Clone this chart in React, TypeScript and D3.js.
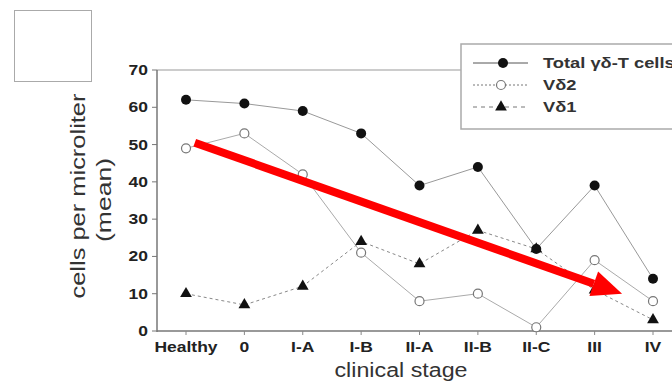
import React from "react";
import * as d3 from "d3";

const stages = ["Healthy", "0", "I-A", "I-B", "II-A", "II-B", "II-C", "III", "IV"];
const totalCells = [62, 61, 59, 53, 39, 44, 22, 39, 14];
const vd2 = [49, 53, 42, 21, 8, 10, 1, 19, 8];
const vd1 = [10, 7, 12, 24, 18, 27, 22, 11, 3];
const yTicks = [0, 10, 20, 30, 40, 50, 60, 70];
const legendLabels = ["Total γδ-T cells", "Vδ2", "Vδ1"];
// annotation arrow, in (category index, value) units
const arrowStart = [0.15, 50.5];
const arrowEnd = [7.47, 10];

const W = 672;
const H = 381;
const FONT = "'Liberation Sans', Arial, Helvetica, sans-serif";
const SX = 1.25;

function SText({ x, y, anchor = "start", size = 14, weight = "bold", fill = "#333", sx = SX, children }: any) {
  return (
    <text
      transform={`translate(${x},${y}) scale(${sx},1)`}
      textAnchor={anchor}
      fontFamily={FONT}
      fontSize={size}
      fontWeight={weight}
      fill={fill}
    >
      {children}
    </text>
  );
}

export default function App() {
  const x = d3.scalePoint<string>().domain(stages).range([186, 653]);
  const step = x.step();
  const y = d3.scaleLinear().domain([0, 70]).range([331, 70]);
  const axisX = 157;
  const xi = (i: number) => 186 + i * step;

  const line = d3
    .line<number>()
    .x((_, i) => x(stages[i]) as number)
    .y((d) => y(d));

  const tri = d3.symbol().type(d3.symbolTriangle).size(60)() as string;

  const ax0 = xi(arrowStart[0]);
  const ay0 = y(arrowStart[1]);
  const ax1 = xi(arrowEnd[0]);
  const ay1 = y(arrowEnd[1]);
  const ang = Math.atan2(ay1 - ay0, ax1 - ax0);
  const headLen = 30;
  const headW = 13;
  const bx = ax1 - headLen * Math.cos(ang);
  const by = ay1 - headLen * Math.sin(ang);
  const px = -Math.sin(ang);
  const py = Math.cos(ang);
  const head = `M${ax1},${ay1}L${bx + px * headW},${by + py * headW}L${bx - px * headW},${by - py * headW}Z`;

  const legendX0 = 473;
  const legendX1 = 528;
  const legendRows = [63, 85, 107];

  return (
    <svg width={W} height={H} style={{ position: "absolute", left: 0, top: 0, background: "#fff" }}>
      <rect x={0} y={0} width={W} height={H} fill="#fff" />
      {/* blank box top-left */}
      <rect x={14.5} y={10.5} width={77} height={71} fill="none" stroke="#aaa" strokeWidth={1} />

      {/* frame top line */}
      <line x1={axisX} x2={W} y1={y(70)} y2={y(70)} stroke="#999" strokeWidth={1} />
      {/* y axis */}
      <line x1={axisX} x2={axisX} y1={y(70)} y2={y(0) + 1} stroke="#777" strokeWidth={1.5} />
      {/* x axis */}
      <line x1={axisX} x2={W} y1={y(0)} y2={y(0)} stroke="#777" strokeWidth={1.5} />

      {yTicks.map((t) => (
        <g key={t}>
          <line x1={axisX - 5} x2={axisX} y1={y(t)} y2={y(t)} stroke="#777" strokeWidth={1} />
          <SText x={148} y={y(t) + 5} anchor="end" size={14} fill="#222">
            {t}
          </SText>
        </g>
      ))}
      {stages.map((s) => (
        <g key={s}>
          <line x1={x(s)} x2={x(s)} y1={y(0)} y2={y(0) + 4} stroke="#888" strokeWidth={1} />
          <SText x={x(s) as number} y={352} anchor="middle" size={14} fill="#222">
            {s}
          </SText>
        </g>
      ))}

      {/* series lines */}
      <path d={line(totalCells) as string} fill="none" stroke="#999" strokeWidth={1} />
      <path d={line(vd2) as string} fill="none" stroke="#aaa" strokeWidth={1} />
      <path d={line(vd1) as string} fill="none" stroke="#888" strokeWidth={1} strokeDasharray="3,3" />

      {vd1.map((v, i) => (
        <path key={"t" + i} d={tri} transform={`translate(${x(stages[i])},${y(v)})`} fill="#111" />
      ))}
      {vd2.map((v, i) => (
        <circle key={"o" + i} cx={x(stages[i])} cy={y(v)} r={4.5} fill="#fff" stroke="#777" strokeWidth={1.2} />
      ))}
      {totalCells.map((v, i) => (
        <circle key={"c" + i} cx={x(stages[i])} cy={y(v)} r={5} fill="#111" />
      ))}

      {/* axis titles */}
      <text
        transform={`translate(85,196) rotate(-90)`}
        textAnchor="middle"
        fontFamily={FONT}
        fontSize={20}
        fill="#333"
        textLength={205}
        lengthAdjust="spacingAndGlyphs"
      >
        cells per microliter
      </text>
      <text
        transform={`translate(111,200) rotate(-90)`}
        textAnchor="middle"
        fontFamily={FONT}
        fontSize={20}
        fill="#333"
        textLength={84}
        lengthAdjust="spacingAndGlyphs"
      >
        (mean)
      </text>
      <text
        x={401}
        y={377}
        textAnchor="middle"
        fontFamily={FONT}
        fontSize={20}
        fill="#333"
        textLength={133}
        lengthAdjust="spacingAndGlyphs"
      >
        clinical stage
      </text>

      {/* legend */}
      <rect x={461} y={44} width={W} height={85} fill="#fff" stroke="#aaa" strokeWidth={1.5} />
      <line x1={legendX0} x2={legendX1} y1={legendRows[0]} y2={legendRows[0]} stroke="#555" strokeWidth={1} />
      <circle cx={503} cy={legendRows[0]} r={5} fill="#111" />
      <line x1={legendX0} x2={legendX1} y1={legendRows[1]} y2={legendRows[1]} stroke="#777" strokeWidth={1} strokeDasharray="2,2" />
      <circle cx={501} cy={legendRows[1]} r={4.5} fill="#fff" stroke="#777" strokeWidth={1.2} />
      <line x1={legendX0} x2={legendX1} y1={legendRows[2]} y2={legendRows[2]} stroke="#777" strokeWidth={1} strokeDasharray="4,4" />
      <path d={tri} transform={`translate(501,${legendRows[2]})`} fill="#111" />
      {legendLabels.map((l, i) => (
        <SText key={l} x={543} y={legendRows[i] + 5} size={15} weight="bold" fill="#333" sx={1.22}>
          {l}
        </SText>
      ))}

      {/* red arrow annotation */}
      <line x1={ax0} y1={ay0} x2={bx} y2={by} stroke="#ff0000" strokeWidth={8} />
      <path d={head} fill="#ff0000" />
    </svg>
  );
}
